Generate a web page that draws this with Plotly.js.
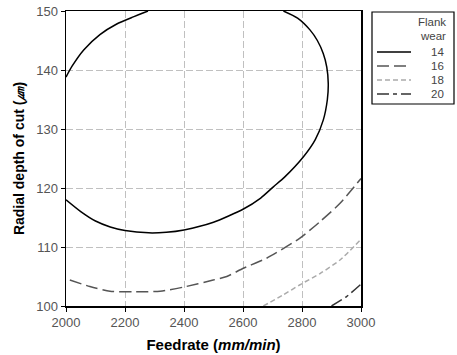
<!DOCTYPE html>
<html>
<head>
<meta charset="utf-8">
<script src="https://cdn.plot.ly/plotly-3.0.1.min.js"></script>
<style>html,body{margin:0;padding:0;background:#fff;}#chart{width:457px;height:355px;}</style>
</head>
<body>
<div id="chart"></div>
<script>
// Contour levels of flank wear
const levels = ['14', '16', '18', '20'];
// Level 14: upper-left arc, then the main arc (null separates segments)
const x14 = [2000, 2020, 2060, 2115, 2172, 2228, 2278, null,
  2000, 2050, 2100, 2150, 2200, 2280, 2340, 2400, 2500, 2600, 2660, 2703, 2740, 2805, 2845, 2872, 2886, 2889, 2884, 2872, 2852, 2827, 2785, 2737];
const y14 = [138.8, 140.6, 143.4, 146.0, 147.8, 149.0, 150, null,
  118.0, 116.0, 114.4, 113.4, 112.8, 112.4, 112.5, 112.9, 114.2, 116.4, 118.3, 120.2, 121.8, 125.3, 128.2, 131.5, 135.0, 137.7, 140.5, 142.8, 145.0, 146.8, 148.8, 150];
const x16 = [2013, 2081, 2149, 2228, 2319, 2398, 2499, 2545, 2601, 2680, 2793, 2861, 2929, 3000];
const y16 = [104.4, 103.3, 102.5, 102.4, 102.5, 103.2, 104.4, 105.0, 106.4, 108.1, 111.5, 114.3, 117.4, 121.6];
const x18 = [2669, 2737, 2793, 2861, 2929, 3000];
const y18 = [100.0, 101.9, 103.6, 105.5, 107.8, 111.3];
const x20 = [2900, 2951, 3000];
const y20 = [100.0, 101.6, 103.7];
const xTicks = [2000, 2200, 2400, 2600, 2800, 3000];
const yTicks = [100, 110, 120, 130, 140, 150];

const styles = {
  '14': {color: '#000000', dash: 'solid', width: 1.5},
  '16': {color: '#555555', dash: '12px,5px', width: 1.5},
  '18': {color: '#aaaaaa', dash: '5px,3px', width: 1.5},
  '20': {color: '#333333', dash: '12px,4px,4px,4px', width: 1.5}
};
const series = {'14': [x14, y14], '16': [x16, y16], '18': [x18, y18], '20': [x20, y20]};

const traces = levels.map(l => ({
  type: 'scatter', mode: 'lines', name: l,
  x: series[l][0], y: series[l][1],
  line: Object.assign({shape: 'spline', smoothing: 0.6}, styles[l]),
  connectgaps: false, hoverinfo: 'skip', showlegend: false, cliponaxis: true
}));

// Custom legend box (paper coordinates)
const px = v => (v - 66) / 295;
const py = v => (306 - v) / 295;
const shapes = [{type: 'rect', xref: 'paper', yref: 'paper', x0: px(372), x1: px(454), y0: py(104), y1: py(12),
  line: {color: '#000', width: 1.2}, fillcolor: 'rgba(0,0,0,0)'}];
const legFont = {family: 'Liberation Sans, Arial', size: 11.5, color: '#444'};
const annotations = [
  {text: 'Flank', x: px(448), y: py(22), xref: 'paper', yref: 'paper', xanchor: 'right', yanchor: 'middle', showarrow: false, font: legFont},
  {text: 'wear', x: px(448), y: py(36), xref: 'paper', yref: 'paper', xanchor: 'right', yanchor: 'middle', showarrow: false, font: legFont}
];
const rowY = {'14': 52, '16': 66, '18': 80, '20': 94};
levels.forEach(l => {
  shapes.push({type: 'line', xref: 'paper', yref: 'paper', x0: px(377), x1: px(411), y0: py(rowY[l]), y1: py(rowY[l]),
    line: {color: styles[l].color, dash: styles[l].dash, width: 1.5}});
  annotations.push({text: l, x: px(446), y: py(rowY[l]), xref: 'paper', yref: 'paper', xanchor: 'right', yanchor: 'middle',
    showarrow: false, font: legFont});
});

const axisCommon = {
  showline: true, linecolor: '#000', linewidth: 1.5, mirror: true,
  showgrid: true, gridcolor: '#c0c0c0', griddash: '7px,3px', gridwidth: 1,
  ticks: 'outside', ticklen: 4, tickcolor: '#000', tickwidth: 1,
  zeroline: false,
  tickfont: {family: 'Liberation Sans, Arial', size: 13, color: '#555'}
};

const layout = {
  width: 457, height: 355,
  margin: {l: 66, r: 96, t: 11, b: 49},
  paper_bgcolor: '#fff', plot_bgcolor: '#fff',
  showlegend: false,
  xaxis: Object.assign({}, axisCommon, {
    range: [2000, 3000], tickvals: xTicks, ticktext: xTicks.map(String),
    title: {text: '<b>Feedrate (<i>mm/min</i>)</b>', standoff: 10, font: {family: 'Liberation Sans, Arial', size: 15, color: '#000'}}
  }),
  yaxis: Object.assign({}, axisCommon, {
    range: [100, 150], tickvals: yTicks, ticktext: yTicks.map(String),
    title: {text: '<b>Radial depth of cut (<i>㎛</i>)</b>', standoff: 8, font: {family: 'Liberation Sans, Arial', size: 14, color: '#000'}}
  }),
  shapes: shapes, annotations: annotations
};

Plotly.newPlot('chart', traces, layout, {staticPlot: true, displayModeBar: false});
</script>
</body>
</html>
